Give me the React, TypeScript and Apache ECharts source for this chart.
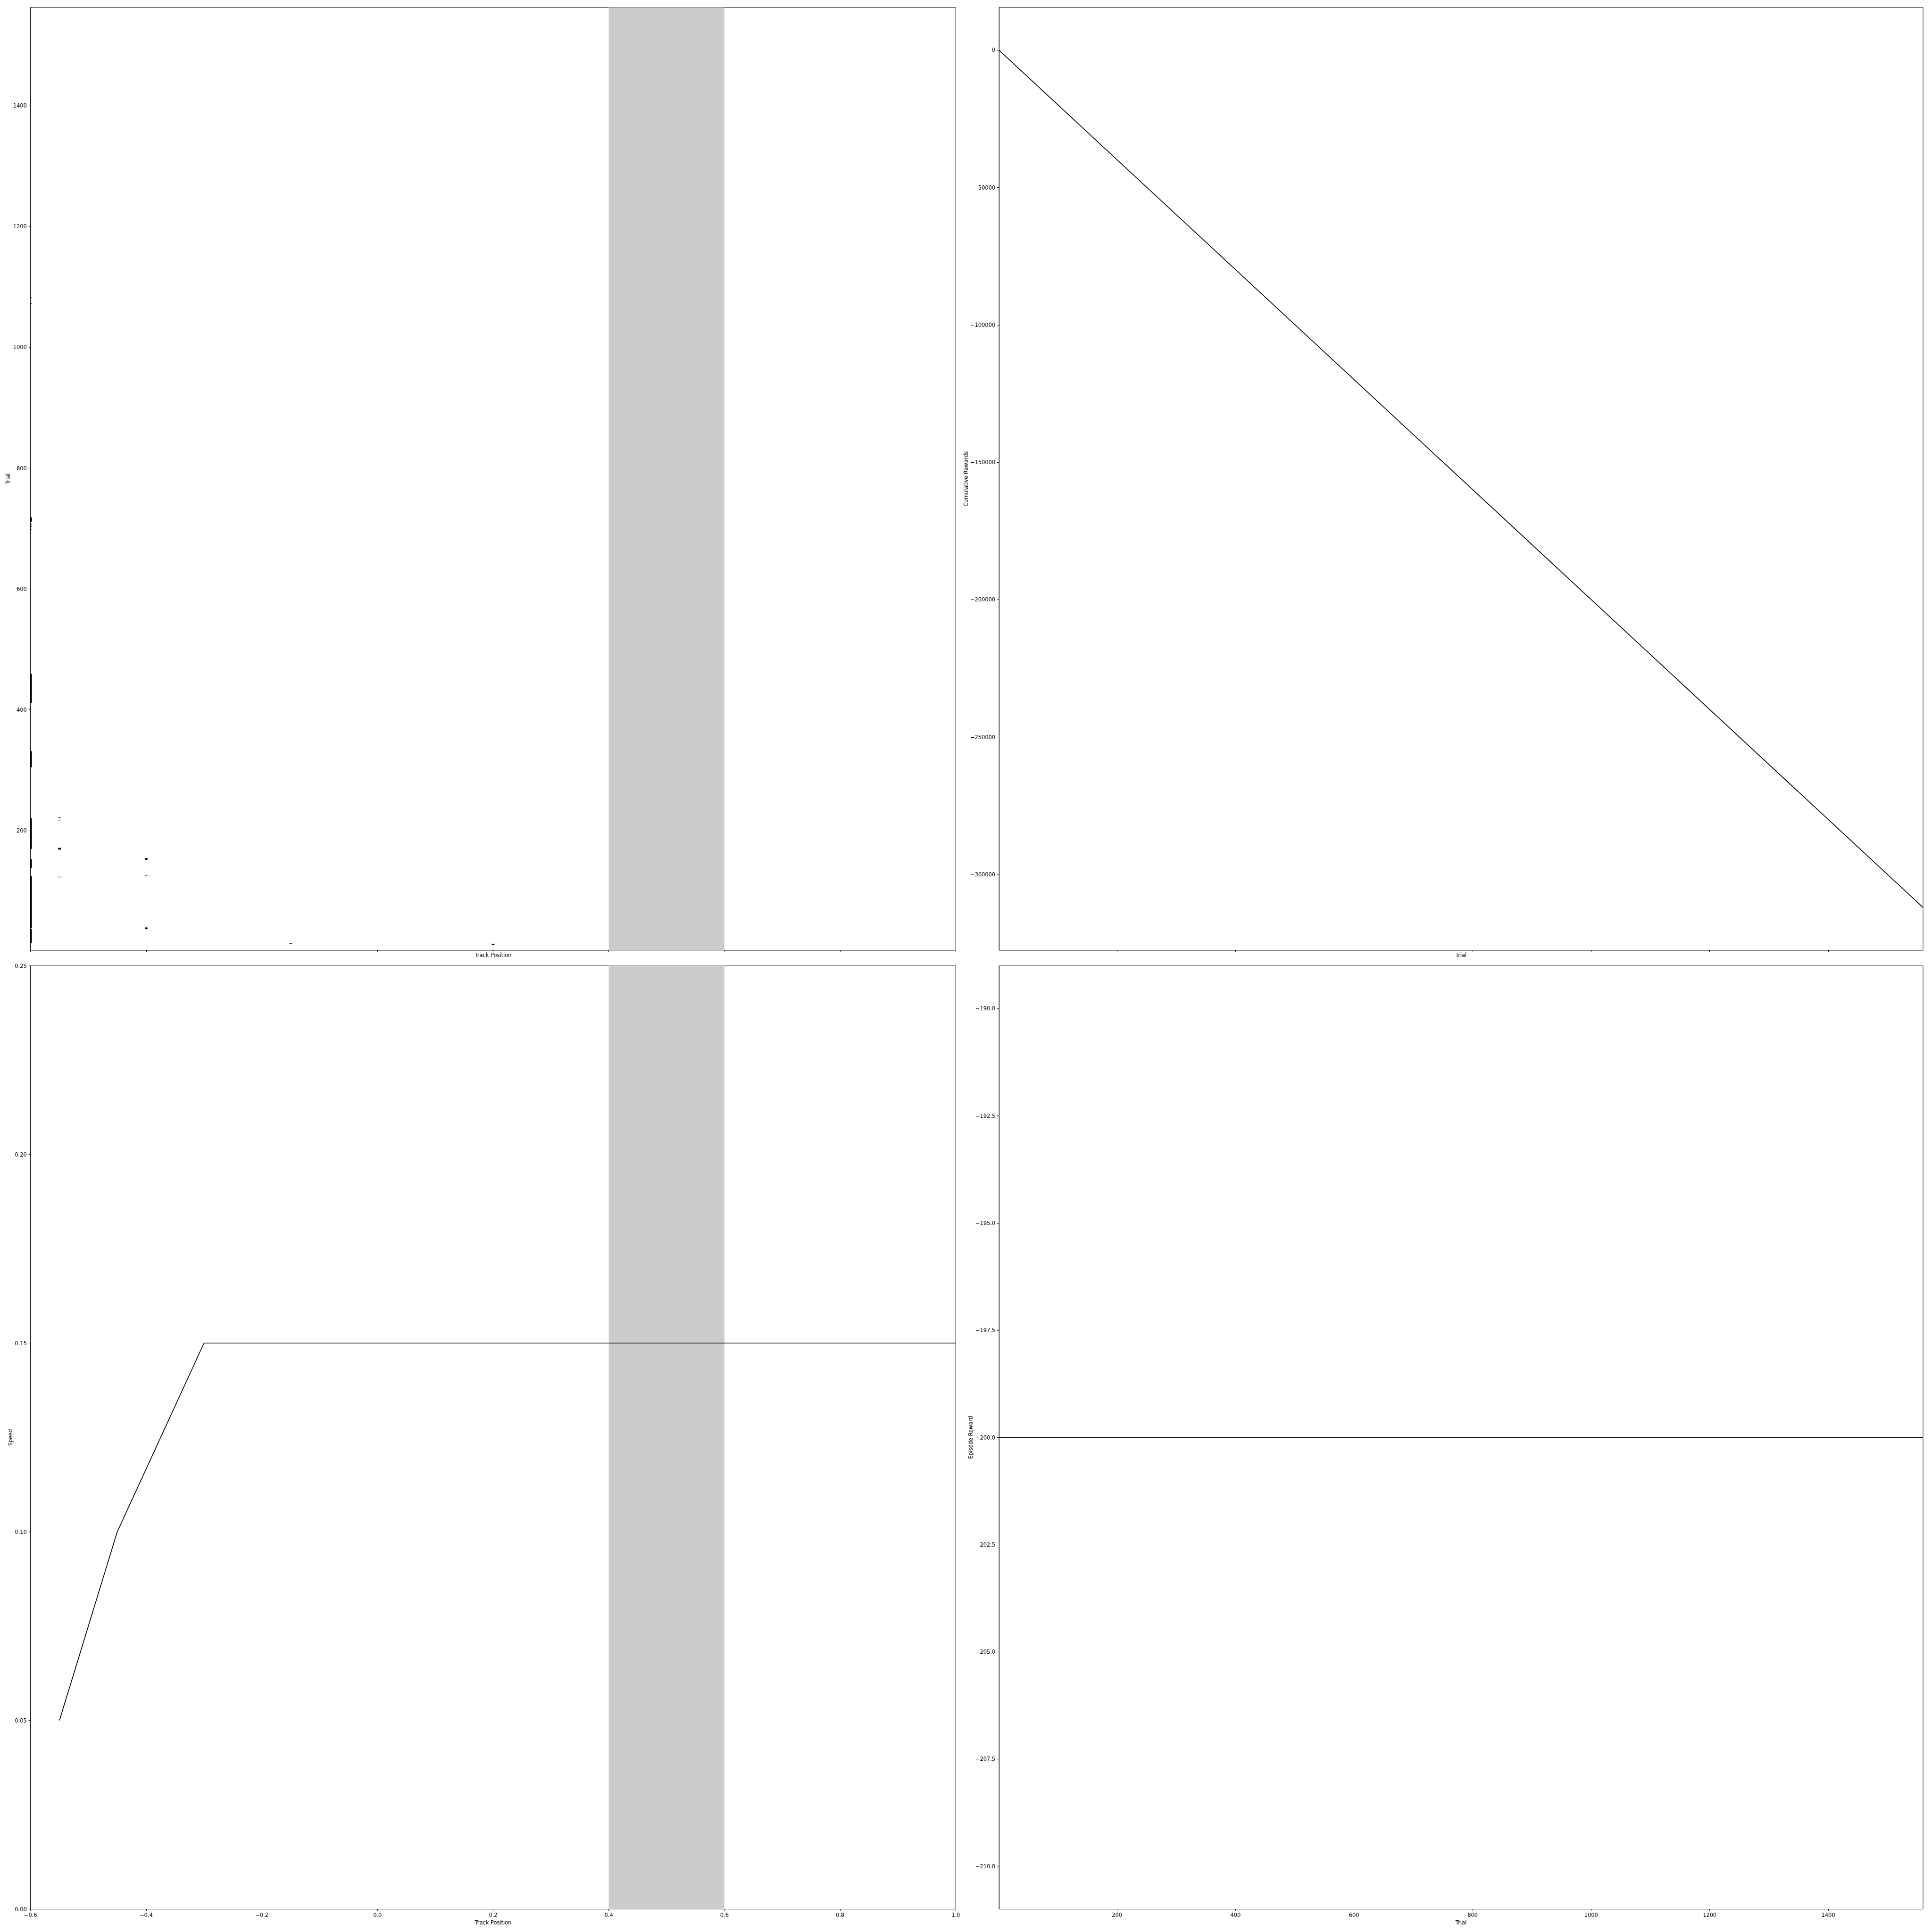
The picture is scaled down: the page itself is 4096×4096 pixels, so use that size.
import React, { useEffect, useRef } from "react";
import * as echarts from "echarts";

// ---- data ----
const trackTicks = [-0.6, -0.4, -0.2, 0.0, 0.2, 0.4, 0.6, 0.8, 1.0];
const trialTicks = [200, 400, 600, 800, 1000, 1200, 1400];
const speedTicks = [0, 0.05, 0.1, 0.15, 0.2, 0.25];
const cumulativeTicks = [0, -50000, -100000, -150000, -200000, -250000, -300000];
const episodeTicks = [-190, -192.5, -195, -197.5, -200, -202.5, -205, -207.5, -210];

const goalBand = [0.4, 0.6];

// visited track positions per trial (runs of consecutive trials)
const visitPosition = [
  -0.6, -0.6, -0.6, -0.6, -0.6, -0.6, -0.6, -0.6, -0.6, -0.6, -0.6, -0.6,
  -0.55, -0.55, -0.55, -0.55,
  -0.4, -0.4, -0.4,
  -0.15,
  0.2, 0.2,
];
const visitFirstTrial = [
  1082, 1073, 712, 707, 703, 699, 412, 305, 170, 138, 39, 14,
  221, 216, 169, 123,
  152, 126, 37,
  13,
  11, 1,
];
const visitLastTrial = [
  1082, 1073, 718, 707, 703, 699, 459, 331, 220, 152, 124, 37,
  221, 216, 171, 123,
  154, 126, 39,
  13,
  12, 2,
];

const speedPosition = [-0.55, -0.45, -0.3, 1.0];
const speedValue = [0.05, 0.1, 0.15, 0.15];

const cumulativeTrial = [1, 1560];
const cumulativeReward = [0, -312000];

const episodeTrial = [1, 1560];
const episodeReward = [-200, -200];

const trackRange = [-0.6, 1.0];
const trialRangeY = [1.7, 1563];
const trialRangeX = [1, 1560];
const speedRange = [0, 0.25];
const cumulativeRange = [-327600, 15600];
const episodeRange = [-211, -189];

// ---- styling ----
const FONT = "DejaVu Sans";
const FS = 11.4;
const fmt = (d: number) => (v: number) =>
  (v < 0 ? "\u2212" : "") + Math.abs(v).toFixed(d);

function axis(opts: {
  gridIndex: number;
  min: number;
  max: number;
  ticks: number[];
  labels: boolean;
  decimals: number;
  name: string;
  nameGap: number;
  vertical: boolean;
}) {
  return {
    type: "value",
    gridIndex: opts.gridIndex,
    min: opts.min,
    max: opts.max,
    name: opts.name,
    nameLocation: "middle",
    nameGap: opts.nameGap,
    nameTextStyle: { color: "#000", fontFamily: FONT, fontSize: FS },
    axisLine: { show: true, onZero: false, lineStyle: { color: "#000", width: 0.9 } },
    axisTick: {
      show: true,
      inside: false,
      length: 4,
      customValues: opts.ticks,
      lineStyle: { color: "#000", width: 0.9 },
    },
    axisLabel: {
      show: opts.labels,
      customValues: opts.ticks,
      formatter: fmt(opts.decimals),
      color: "#000",
      fontFamily: FONT,
      fontSize: FS,
      margin: opts.vertical ? 8 : 7,
    },
    splitLine: { show: false },
  };
}

const L = 64.7,
  R = 2118,
  T = 15.6,
  B = 2047.5;

export default function App() {
  const ref = useRef<HTMLDivElement>(null);
  useEffect(() => {
    if (!ref.current) return;
    const chart = echarts.init(ref.current, null, { renderer: "svg" });

    const gridBase = {
      show: true,
      borderColor: "#000",
      borderWidth: 0.9,
      backgroundColor: "transparent",
      containLabel: false,
      outerBoundsMode: "none",
    };

    const bandRender = (params: any, api: any) => {
      const cs = params.coordSys;
      const yRef = api.value(2);
      const a = api.coord([api.value(0), yRef]);
      const b = api.coord([api.value(1), yRef]);
      return {
        type: "rect",
        shape: { x: a[0], y: cs.y, width: b[0] - a[0], height: cs.height },
        style: { fill: "#cccccc" },
      };
    };

    const visitRender = (params: any, api: any) => {
      const x = api.value(0);
      const first = api.value(1);
      const last = api.value(2);
      const top = api.coord([x, last + 0.5]);
      const bot = api.coord([x, first - 0.5]);
      const w = 5.7;
      const shape = echarts.graphic.clipRectByRect(
        { x: top[0] - w / 2, y: top[1], width: w, height: bot[1] - top[1] },
        params.coordSys
      );
      if (!shape) return null;
      return { type: "rect", shape, style: { fill: "#000" } };
    };

    const option: any = {
      animation: false,
      backgroundColor: "#ffffff",
      grid: [
        { ...gridBase, left: L, top: T, width: 2026.2 - L, height: 2014.7 - T },
        { ...gridBase, left: R, top: T, width: 4077 - R, height: 2014.7 - T },
        { ...gridBase, left: L, top: B, width: 2026.2 - L, height: 4047.5 - B },
        { ...gridBase, left: R, top: B, width: 4077 - R, height: 4047.5 - B },
      ],
      xAxis: [
        axis({ gridIndex: 0, min: trackRange[0], max: trackRange[1], ticks: trackTicks, labels: false, decimals: 1, name: "Track Position", nameGap: 5, vertical: false }),
        axis({ gridIndex: 1, min: trialRangeX[0], max: trialRangeX[1], ticks: trialTicks, labels: false, decimals: 0, name: "Trial", nameGap: 5, vertical: false }),
        axis({ gridIndex: 2, min: trackRange[0], max: trackRange[1], ticks: trackTicks, labels: true, decimals: 1, name: "Track Position", nameGap: 23, vertical: false }),
        axis({ gridIndex: 3, min: trialRangeX[0], max: trialRangeX[1], ticks: trialTicks, labels: true, decimals: 0, name: "Trial", nameGap: 23, vertical: false }),
      ],
      yAxis: [
        axis({ gridIndex: 0, min: trialRangeY[0], max: trialRangeY[1], ticks: trialTicks, labels: true, decimals: 0, name: "Trial", nameGap: 42, vertical: true }),
        axis({ gridIndex: 1, min: cumulativeRange[0], max: cumulativeRange[1], ticks: cumulativeTicks, labels: true, decimals: 0, name: "Cumulative Rewards", nameGap: 63, vertical: true }),
        axis({ gridIndex: 2, min: speedRange[0], max: speedRange[1], ticks: speedTicks, labels: true, decimals: 2, name: "Speed", nameGap: 37, vertical: true }),
        axis({ gridIndex: 3, min: episodeRange[0], max: episodeRange[1], ticks: episodeTicks, labels: true, decimals: 1, name: "Episode Reward", nameGap: 55, vertical: true }),
      ],
      series: [
        {
          type: "custom",
          xAxisIndex: 0,
          yAxisIndex: 0,
          z: 1,
          silent: true,
          renderItem: bandRender,
          data: [[goalBand[0], goalBand[1], trialRangeY[0]]],
          encode: { x: [0, 1], y: 2 },
        },
        {
          type: "custom",
          xAxisIndex: 0,
          yAxisIndex: 0,
          z: 2,
          silent: true,
          renderItem: visitRender,
          data: visitPosition.map((p, i) => [p, visitFirstTrial[i], visitLastTrial[i]]),
          encode: { x: 0, y: [1, 2] },
        },
        {
          type: "custom",
          xAxisIndex: 2,
          yAxisIndex: 2,
          z: 1,
          silent: true,
          renderItem: bandRender,
          data: [[goalBand[0], goalBand[1], speedRange[0]]],
          encode: { x: [0, 1], y: 2 },
        },
        {
          type: "line",
          xAxisIndex: 2,
          yAxisIndex: 2,
          z: 3,
          symbol: "none",
          showSymbol: false,
          clip: true,
          lineStyle: { color: "#000", width: 1.7 },
          data: speedPosition.map((p, i) => [p, speedValue[i]]),
        },
        {
          type: "line",
          xAxisIndex: 1,
          yAxisIndex: 1,
          z: 3,
          symbol: "none",
          showSymbol: false,
          clip: true,
          lineStyle: { color: "#000", width: 1.7 },
          data: cumulativeTrial.map((t, i) => [t, cumulativeReward[i]]),
        },
        {
          type: "line",
          xAxisIndex: 3,
          yAxisIndex: 3,
          z: 3,
          symbol: "none",
          showSymbol: false,
          clip: true,
          lineStyle: { color: "#000", width: 1.7 },
          data: episodeTrial.map((t, i) => [t, episodeReward[i]]),
        },
      ],
    };

    chart.setOption(option);
    return () => chart.dispose();
  }, []);

  return (
    <div
      ref={ref}
      style={{ position: "fixed", left: 0, top: 0, width: 4096, height: 4096, background: "#fff" }}
    />
  );
}
